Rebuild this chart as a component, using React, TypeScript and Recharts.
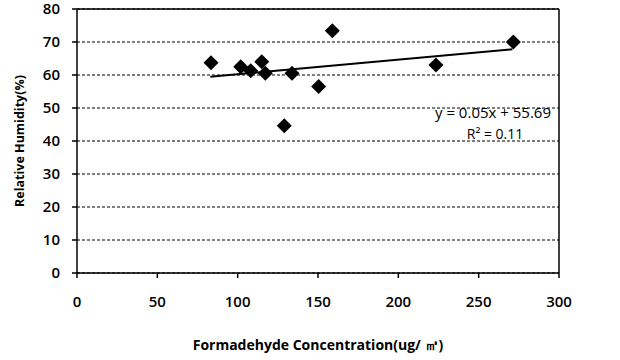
import React from "react";
import {
  ScatterChart,
  Scatter,
  XAxis,
  YAxis,
  CartesianGrid,
  ReferenceLine,
} from "recharts";

// values
const concentration = [83.4, 101.9, 108.1, 115.0, 117.2, 133.8, 150.4, 129.0, 158.9, 223.4, 271.6];
const humidity = [63.7, 62.5, 61.3, 64.0, 60.5, 60.5, 56.5, 44.6, 73.4, 63.0, 70.0];

// linear trendline ends (as drawn in the picture)
const trendX = [83, 271];
const trendY = [59.5, 67.8];

const xTicks = [0, 50, 100, 150, 200, 250, 300];
const yTicks = [0, 10, 20, 30, 40, 50, 60, 70, 80];

const equation = "y = 0.05x + 55.69";
const rSquared = "R² = 0.11";

const FONT = "'Open Sans', 'DejaVu Sans', sans-serif";

const points = concentration.map((x, i) => ({ x, y: humidity[i] }));

// filled black diamond marker
const Diamond = (props: any) => {
  const { cx, cy } = props;
  const r = 7.5;
  return (
    <path
      d={`M${cx},${cy - r}L${cx + r},${cy}L${cx},${cy + r}L${cx - r},${cy}Z`}
      fill="#000"
    />
  );
};

const noteStyle: React.CSSProperties = {
  position: "absolute",
  transform: "translateX(-50%)",
  fontSize: 15,
  lineHeight: "13px",
  height: 13,
  whiteSpace: "nowrap",
  color: "#000",
};

export default function App() {
  return (
    <div
      style={{
        position: "absolute",
        left: 0,
        top: 0,
        width: 620,
        height: 360,
        background: "#fff",
        fontFamily: FONT,
      }}
    >
      <ScatterChart
        width={620}
        height={360}
        margin={{ top: 9, right: 61, bottom: 0, left: 0 }}
      >
        <CartesianGrid
          horizontal
          vertical={false}
          stroke="#000"
          strokeDasharray="3 2"
        />
        <XAxis
          type="number"
          dataKey="x"
          domain={[0, 300]}
          ticks={xTicks}
          height={87}
          tickSize={5}
          tickMargin={18}
          stroke="#000"
          strokeWidth={1.5}
          tick={{ fill: "#000", fontSize: 15, fontFamily: FONT, fontWeight: 600 }}
          label={{
            content: (p: any) => {
              const vb = p.viewBox;
              return (
                <text
                  x={vb.x + vb.width / 2}
                  y={vb.y + 77}
                  textAnchor="middle"
                  fill="#000"
                  fontSize={14}
                  fontWeight="bold"
                  fontFamily={FONT}
                >
                  Formadehyde Concentration(ug/ ㎥)
                </text>
              );
            },
          }}
        />
        <YAxis
          type="number"
          dataKey="y"
          domain={[0, 80]}
          ticks={yTicks}
          width={77}
          tickSize={5}
          tickMargin={12}
          stroke="#000"
          strokeWidth={1.5}
          tick={{ fill: "#000", fontSize: 15, fontFamily: FONT, fontWeight: 600 }}
          label={{
            content: (p: any) => {
              const vb = p.viewBox;
              const cx = vb.x + 24;
              const cy = vb.y + vb.height / 2;
              return (
                <text
                  x={cx}
                  y={cy}
                  transform={`rotate(-90 ${cx} ${cy})`}
                  textAnchor="middle"
                  fill="#000"
                  fontSize={12.5}
                  fontWeight="bold"
                  fontFamily={FONT}
                >
                  Relative Humidity(%)
                </text>
              );
            },
          }}
        />
        <ReferenceLine y={80} stroke="#000" strokeWidth={1.5} />
        <ReferenceLine x={300} stroke="#000" strokeWidth={1.5} />
        <ReferenceLine
          segment={[
            { x: trendX[0], y: trendY[0] },
            { x: trendX[1], y: trendY[1] },
          ]}
          stroke="#000"
          strokeWidth={2}
        />
        <Scatter data={points} shape={<Diamond />} isAnimationActive={false} />
      </ScatterChart>
      <div style={{ ...noteStyle, left: 493, top: 106 }}>{equation}</div>
      <div style={{ ...noteStyle, left: 495, top: 127, fontSize: 14 }}>{rSquared}</div>
    </div>
  );
}
